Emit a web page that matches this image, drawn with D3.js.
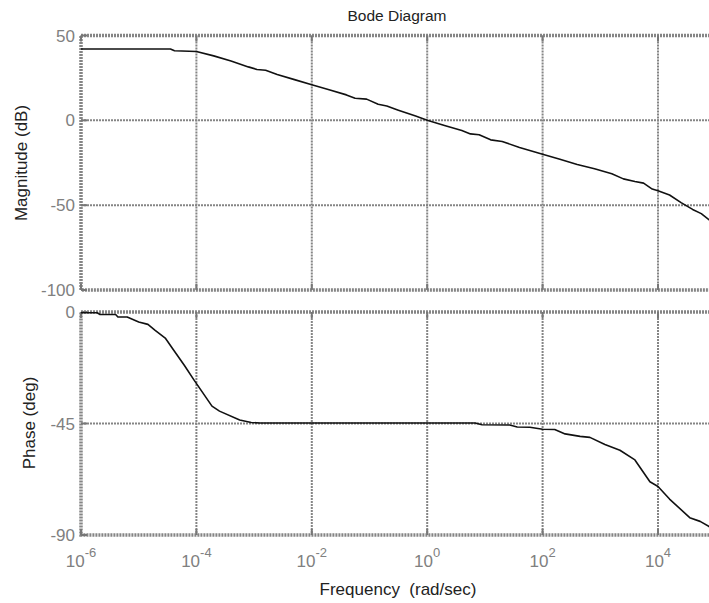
<!DOCTYPE html>
<html>
<head>
<meta charset="utf-8">
<script src="https://cdn.jsdelivr.net/npm/d3@7"></script>
<style>
  html, body { margin: 0; padding: 0; background: #fff; overflow: hidden; }
  svg { display: block; font-family: "Liberation Sans", Arial, sans-serif; }
</style>
</head>
<body>
<svg id="chart" width="709" height="603"></svg>
<script>
// Frequency points are given as log10(rad/sec)
const magLogW = [-6, -5.0, -4.45, -4.38, -4.0, -3.7, -3.4, -3.1, -2.95, -2.8, -2.6, -2.3, -2.0, -1.7, -1.4, -1.25, -1.05, -0.85, -0.7, -0.5, -0.2, 0, 0.3, 0.6, 0.75, 0.9, 1.1, 1.3, 1.6, 2.0, 2.3, 2.6, 2.9, 3.2, 3.4, 3.6, 3.75, 3.9, 4.0, 4.2, 4.4, 4.6, 4.75, 4.9, 5.0];
const magDb   = [42, 42, 42, 41, 40.6, 38, 35, 31.5, 30, 29.5, 27, 24, 21, 18, 15, 13, 12.5, 9.5, 8.5, 6, 2.5, 0, -3, -6, -8, -8.5, -11.5, -12.5, -16, -20, -23, -26, -28.5, -31.5, -34.5, -36, -37, -40.5, -41.5, -44, -48.5, -52.5, -55, -59, -61];

const phaseLogW = [-6, -5.72, -5.67, -5.4, -5.36, -5.2, -5.0, -4.84, -4.72, -4.54, -4.42, -4.21, -4.04, -3.73, -3.6, -3.25, -3.05, -2.9, 0.83, 0.95, 1.43, 1.56, 1.78, 2.0, 2.21, 2.39, 2.65, 2.82, 3.08, 3.34, 3.6, 3.86, 4.0, 4.2, 4.55, 4.73, 4.88, 5.0];
const phaseDeg  = [-0.3, -0.3, -1, -1, -2, -2, -4, -5, -7.3, -10.5, -14.5, -21.5, -27.5, -38, -40, -43.6, -44.6, -44.8, -44.8, -45.5, -45.6, -46.4, -46.5, -47.3, -47.4, -49.2, -50.2, -50.6, -53.5, -55.8, -59.7, -68.5, -70.4, -75.5, -83, -84.5, -86.5, -89];

const freqTickExp = [-6, -4, -2, 0, 2, 4];
const magTicks = [50, 0, -50, -100];
const phaseTicks = [0, -45, -90];

const svg = d3.select("#chart");
const gridColor = "#858585";
const labelGray = "#808080";

const left = 81, right = 715.7;
const x = d3.scaleLog().domain([1e-6, 1e5]).range([left, right]);
const yMag = d3.scaleLinear().domain([-100, 50]).range([290, 35.5]);
const yPh = d3.scaleLinear().domain([-90, 0]).range([535, 312]);

function panel(y, ticks, logW, vals) {
  const [y0, y1] = y.range();   // bottom, top
  const g = svg.append("g");

  // dotted grid
  const innerX = freqTickExp.filter(e => e > -6).map(e => Math.pow(10, e));
  g.selectAll(".vg").data(innerX).join("line")
    .attr("x1", d => x(d)).attr("x2", d => x(d))
    .attr("y1", y1).attr("y2", y0)
    .attr("stroke", gridColor).attr("stroke-width", 2).attr("stroke-dasharray", "2,1");
  const innerY = ticks.filter(t => t !== y.domain()[0] && t !== y.domain()[1]);
  g.selectAll(".hg").data(innerY).join("line")
    .attr("x1", left).attr("x2", right)
    .attr("y1", d => y(d)).attr("y2", d => y(d))
    .attr("stroke", gridColor).attr("stroke-width", 2).attr("stroke-dasharray", "2,1");

  // frame
  g.append("rect")
    .attr("x", left).attr("y", y1).attr("width", right - left).attr("height", y0 - y1)
    .attr("fill", "none").attr("stroke", gridColor).attr("stroke-width", 3.5).attr("stroke-dasharray", "2,1");

  // short inward tick marks
  const allX = freqTickExp.map(e => Math.pow(10, e));
  g.selectAll(".tt").data(allX).join("line")
    .attr("x1", d => x(d)).attr("x2", d => x(d)).attr("y1", y1).attr("y2", y1 + 6)
    .attr("stroke", "#777").attr("stroke-width", 2);
  g.selectAll(".tb").data(allX).join("line")
    .attr("x1", d => x(d)).attr("x2", d => x(d)).attr("y1", y0).attr("y2", y0 - 6)
    .attr("stroke", "#777").attr("stroke-width", 2);
  g.selectAll(".tl").data(ticks).join("line")
    .attr("x1", left).attr("x2", left + 6).attr("y1", d => y(d)).attr("y2", d => y(d))
    .attr("stroke", "#777").attr("stroke-width", 2);

  // y tick labels
  g.selectAll(".yl").data(ticks).join("text")
    .attr("x", left - 6).attr("y", d => y(d)).attr("dy", "0.36em")
    .attr("text-anchor", "end").attr("fill", labelGray).attr("font-size", 17)
    .text(d => d);

  // response curve
  const pts = logW.map((l, i) => [Math.pow(10, l), vals[i]]);
  g.append("path").datum(pts)
    .attr("d", d3.line().x(d => x(d[0])).y(d => y(d[1])))
    .attr("fill", "none").attr("stroke", "#111").attr("stroke-width", 1.6)
    .attr("stroke-linejoin", "round");
}

panel(yMag, magTicks, magLogW, magDb);
panel(yPh, phaseTicks, phaseLogW, phaseDeg);

// frequency tick labels, 10 with superscript exponent
const xl = svg.selectAll(".xl").data(freqTickExp).join("text")
  .attr("x", d => x(Math.pow(10, d))).attr("y", 567)
  .attr("text-anchor", "middle").attr("fill", labelGray).attr("font-size", 17);
xl.append("tspan").text("10");
xl.append("tspan").attr("dy", -10).attr("font-size", 13).text(d => d);

// titles
svg.append("text").attr("x", 397).attr("y", 21).attr("text-anchor", "middle")
  .attr("font-size", 15.5).attr("fill", "#222").text("Bode Diagram");
svg.append("text").attr("x", 398).attr("y", 595).attr("text-anchor", "middle")
  .attr("font-size", 17).attr("fill", "#222").attr("xml:space", "preserve")
  .text("Frequency  (rad/sec)");
svg.append("text").attr("transform", "translate(27,163) rotate(-90)")
  .attr("text-anchor", "middle").attr("font-size", 17).attr("fill", "#222")
  .text("Magnitude (dB)");
svg.append("text").attr("transform", "translate(35,423) rotate(-90)")
  .attr("text-anchor", "middle").attr("font-size", 17).attr("fill", "#222")
  .text("Phase (deg)");
</script>
</body>
</html>
